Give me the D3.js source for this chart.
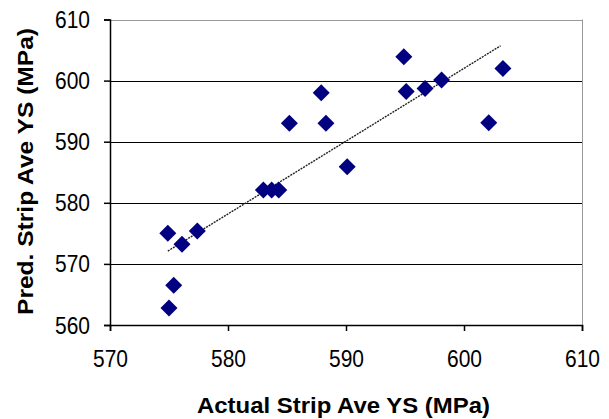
<!DOCTYPE html>
<html><head><meta charset="utf-8">
<script src="https://cdn.jsdelivr.net/npm/d3@7"></script>
<style>body{margin:0;background:#fff}svg{display:block}</style>
</head><body>
<script>
const actual = [574.9, 576.1, 577.4, 575.4, 575.0, 583.0, 583.7, 584.3, 585.2, 587.9, 588.3, 590.1, 594.9, 595.1, 596.7, 598.1, 602.1, 603.3];
const predicted = [575.0, 573.2, 575.4, 566.5, 562.8, 582.1, 582.1, 582.1, 593.0, 598.0, 593.0, 585.9, 603.9, 598.2, 598.7, 600.1, 593.1, 602.0];
const trendX = [574.9, 603.1];
const trendY = [572.1, 605.7];
const xTicks = [570, 580, 590, 600, 610];
const yTicks = [560, 570, 580, 590, 600, 610];
const xTitle = "Actual Strip Ave YS (MPa)";
const yTitle = "Pred. Strip Ave YS (MPa)";

const W = 609, H = 419;
const svg = d3.select("body").append("svg").attr("width", W).attr("height", H);
const x = d3.scaleLinear().domain([570, 610]).range([110, 582]);
const y = d3.scaleLinear().domain([560, 610]).range([325, 19.5]);
const font = "Liberation Sans, Arial, sans-serif";
const sy = 1.15;

// gridlines
svg.append("g").selectAll("line").data(yTicks.filter(d => d > 560 && d < 610)).join("line")
  .attr("x1", x(570)).attr("x2", x(610))
  .attr("y1", d => Math.round(y(d)) + 0.5).attr("y2", d => Math.round(y(d)) + 0.5)
  .attr("stroke", "#000").attr("stroke-width", 1);
// top and right border
svg.append("line").attr("x1", x(570)).attr("x2", x(610) + 0.5)
  .attr("y1", Math.round(y(610)) + 0.5).attr("y2", Math.round(y(610)) + 0.5)
  .attr("stroke", "#999");
svg.append("line").attr("x1", Math.round(x(610)) + 0.5).attr("x2", Math.round(x(610)) + 0.5)
  .attr("y1", y(610)).attr("y2", y(560))
  .attr("stroke", "#999");

// axes
const xAxis = d3.axisBottom(x).tickValues(xTicks).tickSize(6).tickPadding(18).tickFormat(d3.format("d"));
const yAxis = d3.axisLeft(y).tickValues(yTicks).tickSize(6).tickPadding(14).tickFormat(d3.format("d"));
const gx = svg.append("g").attr("transform", `translate(0,${Math.round(y(560))})`).call(xAxis);
const gy = svg.append("g").attr("transform", `translate(${Math.round(x(570))},0)`).call(yAxis);
[gx, gy].forEach(g => {
  g.select(".domain").attr("stroke", "#000").attr("stroke-width", 1.5);
  g.selectAll(".tick line").attr("stroke", "#000").attr("stroke-width", 1.5);
  g.selectAll(".tick text").attr("font-family", font).attr("font-size", 21).attr("fill", "#000")
    .attr("transform", `scale(1,${sy})`);
});
gx.selectAll(".tick text").attr("y", 42 / sy).attr("dy", null);
gy.selectAll(".tick text").attr("y", 8 / sy).attr("dy", null);

// trend line
svg.append("line")
  .attr("x1", x(trendX[0])).attr("y1", y(trendY[0]))
  .attr("x2", x(trendX[1])).attr("y2", y(trendY[1]))
  .attr("stroke", "#222").attr("stroke-width", 1.4).attr("stroke-dasharray", "2,1");

// points
const diamond = "M0,-8.5L8.5,0L0,8.5L-8.5,0Z";
svg.append("g").selectAll("path").data(actual.map((a, i) => [a, predicted[i]])).join("path")
  .attr("d", diamond)
  .attr("transform", d => `translate(${x(d[0])},${y(d[1])})`)
  .attr("fill", "#000080");

// titles
svg.append("text").attr("x", 197).attr("y", 413)
  .attr("font-family", font).attr("font-weight", "bold").attr("font-size", 22)
  .attr("textLength", 293).attr("lengthAdjust", "spacingAndGlyphs")
  .text(xTitle);
svg.append("text").attr("transform", "translate(33,315) rotate(-90)")
  .attr("font-family", font).attr("font-weight", "bold").attr("font-size", 22)
  .attr("textLength", 287).attr("lengthAdjust", "spacingAndGlyphs")
  .text(yTitle);
</script>
</body></html>
